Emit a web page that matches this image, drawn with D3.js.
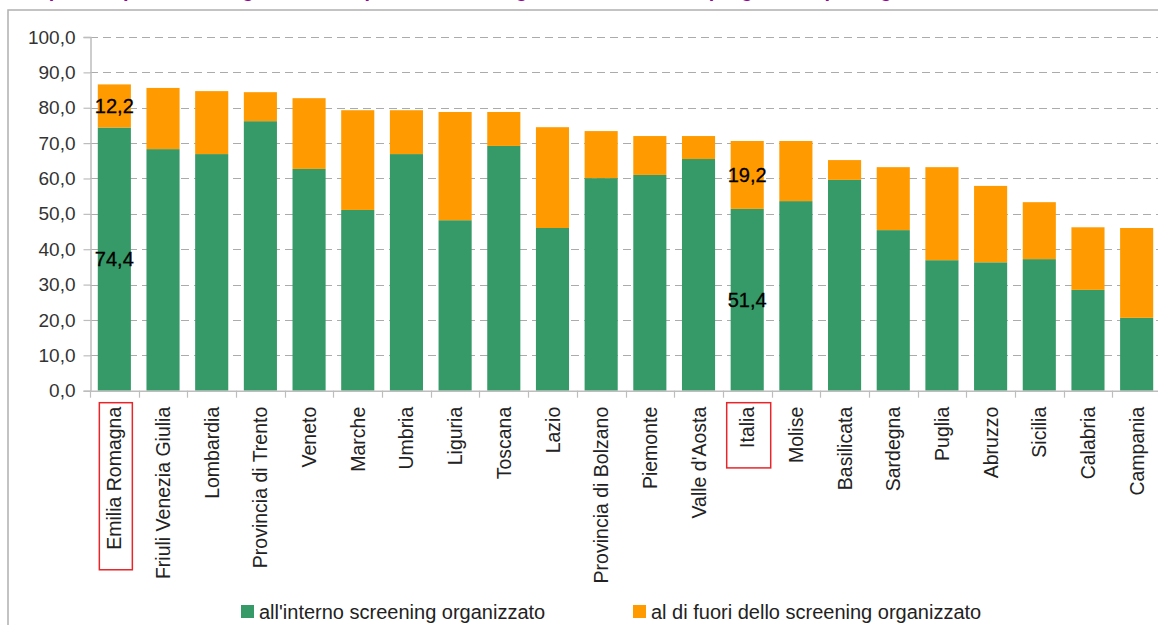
<!DOCTYPE html>
<html>
<head>
<meta charset="utf-8">
<script src="https://cdn.jsdelivr.net/npm/d3@7"></script>
<style>
  html, body { margin: 0; padding: 0; background: #fff; }
  svg { display: block; }
  text { font-family: "Liberation Sans", Arial, sans-serif; }
</style>
</head>
<body>
<svg id="chart" width="1158" height="625"></svg>
<script>
// Regions, ordered by total coverage
const categories = [
  "Emilia Romagna", "Friuli Venezia Giulia", "Lombardia", "Provincia di Trento",
  "Veneto", "Marche", "Umbria", "Liguria", "Toscana", "Lazio",
  "Provincia di Bolzano", "Piemonte", "Valle d'Aosta", "Italia", "Molise",
  "Basilicata", "Sardegna", "Puglia", "Abruzzo", "Sicilia", "Calabria", "Campania"
];
// % inside the organised screening programme
const interno = [
  74.4, 68.3, 66.9, 76.2, 62.7, 51.1, 66.9, 48.2, 69.2, 46.0,
  60.1, 61.0, 65.5, 51.4, 53.6, 59.6, 45.4, 36.9, 36.3, 37.2, 28.5, 20.6
];
// % outside the organised screening programme
const fuori = [
  12.2, 17.3, 17.8, 8.2, 20.0, 28.2, 12.4, 30.6, 9.6, 28.5,
  13.3, 11.0, 6.5, 19.2, 17.0, 5.6, 17.8, 26.3, 21.6, 16.1, 17.7, 25.4
];
const seriesNames = ["all'interno screening organizzato", "al di fuori dello screening organizzato"];
const yTicks = [0, 10, 20, 30, 40, 50, 60, 70, 80, 90, 100];
// Bars whose values are printed on the chart
const labelled = ["Emilia Romagna", "Italia"];

const colors = ["#359a67", "#ff9b00"];
const fmt = v => d3.format(".1f")(v).replace(".", ",");

const svg = d3.select("#chart");

// Outer frame of the figure
svg.append("rect")
  .attr("x", 8).attr("y", 10).attr("width", 1200).attr("height", 700)
  .attr("fill", "none").attr("stroke", "#b0b0b0").attr("stroke-width", 1.5);

// Heading (sits above the framed area)
svg.append("text")
  .attr("x", 22).attr("y", -3)
  .attr("fill", "#990099").attr("font-size", 20).attr("font-weight", "bold")
  .text("Copertura per screening cervicale: quota di test eseguiti dentro e fuori i programmi, per regione");

const x = d3.scaleBand().domain(categories).range([90, 1161]).paddingInner(0.32).paddingOuter(0.16);
const y = d3.scaleLinear().domain([0, 100]).range([390.7, 37]);

// Horizontal dashed gridlines
svg.append("g")
  .selectAll("line").data(yTicks.filter(d => d > 0)).join("line")
  .attr("x1", 90).attr("x2", 1158)
  .attr("y1", d => Math.round(y(d)) + 0.5).attr("y2", d => Math.round(y(d)) + 0.5)
  .attr("stroke", "#ababab").attr("stroke-width", 1.2)
  .attr("stroke-dasharray", "8,5");

// Y axis
const yAxis = d3.axisLeft(y).tickValues(yTicks).tickFormat(fmt).tickSize(7).tickPadding(8);
const gy = svg.append("g").attr("transform", "translate(90.5,0)").call(yAxis);
gy.select(".domain").attr("stroke", "#bdbdbd").attr("stroke-width", 1.5);
gy.selectAll(".tick line").attr("stroke", "#bdbdbd").attr("stroke-width", 1.2);
gy.selectAll(".tick text").attr("fill", "#333").attr("font-size", 19)
  .attr("font-family", "'Liberation Sans', Arial, sans-serif");

// Stacked bars
const rows = categories.map((c, i) => ({ cat: c, interno: interno[i], fuori: fuori[i] }));
const stack = d3.stack().keys(["interno", "fuori"])(rows);

svg.append("g").selectAll("g").data(stack).join("g")
  .attr("fill", (d, i) => colors[i])
  .selectAll("rect").data(d => d).join("rect")
  .attr("x", d => x(d.data.cat))
  .attr("width", x.bandwidth())
  .attr("y", d => y(d[1]))
  .attr("height", d => y(d[0]) - y(d[1]));

// X axis: baseline, band ticks and rotated category names
const gx = svg.append("g").attr("transform", `translate(0,${y(0)})`);
gx.append("line").attr("x1", 90).attr("x2", 1158).attr("y1", 0.5).attr("y2", 0.5)
  .attr("stroke", "#bdbdbd").attr("stroke-width", 1.5);
const step = x.step();
const bounds = d3.range(categories.length + 1).map(i => 90 + i * step);
gx.selectAll("line.bt").data(bounds).join("line").attr("class", "bt")
  .attr("x1", d => Math.round(d) + 0.5).attr("x2", d => Math.round(d) + 0.5)
  .attr("y1", 0).attr("y2", 7)
  .attr("stroke", "#bdbdbd").attr("stroke-width", 1.2);
gx.selectAll("text.cat").data(categories).join("text").attr("class", "cat")
  .attr("transform", d => `translate(${x(d) + x.bandwidth() / 2},16) rotate(-90)`)
  .attr("text-anchor", "end").attr("dy", "0.36em")
  .attr("fill", "#222").attr("font-size", 19.5)
  .text(d => d);

// Red boxes around highlighted category names
const boxW = { "Emilia Romagna": 33, "Italia": 44 };
gx.selectAll("text.cat").filter(d => labelled.includes(d)).each(function (d) {
  const len = this.getComputedTextLength();
  const cx = x(d) + x.bandwidth() / 2;
  gx.append("rect")
    .attr("x", cx - boxW[d] / 2 + 1.5).attr("y", 12)
    .attr("width", boxW[d]).attr("height", len + 24)
    .attr("fill", "none").attr("stroke", "#e8262a").attr("stroke-width", 1.5);
});

// Value labels on highlighted bars
const lab = svg.append("g");
stack.forEach(s => {
  s.filter(d => labelled.includes(d.data.cat)).forEach(d => {
    lab.append("text")
      .attr("x", x(d.data.cat) + x.bandwidth() / 2)
      .attr("y", (y(d[0]) + y(d[1])) / 2)
      .attr("dy", "0.36em").attr("text-anchor", "middle")
      .attr("font-size", 20).attr("fill", "#000")
      .attr("stroke", "#000").attr("stroke-width", 0.3)
      .text(fmt(d[1] - d[0]));
  });
});

// Legend
const legX = [241, 633];
const leg = svg.append("g");
seriesNames.forEach((n, i) => {
  leg.append("rect").attr("x", legX[i]).attr("y", 605).attr("width", 13).attr("height", 13)
    .attr("fill", colors[i]);
  leg.append("text").attr("x", legX[i] + 18).attr("y", 619)
    .attr("font-size", 20).attr("fill", "#222").text(n);
});
</script>
</body>
</html>
